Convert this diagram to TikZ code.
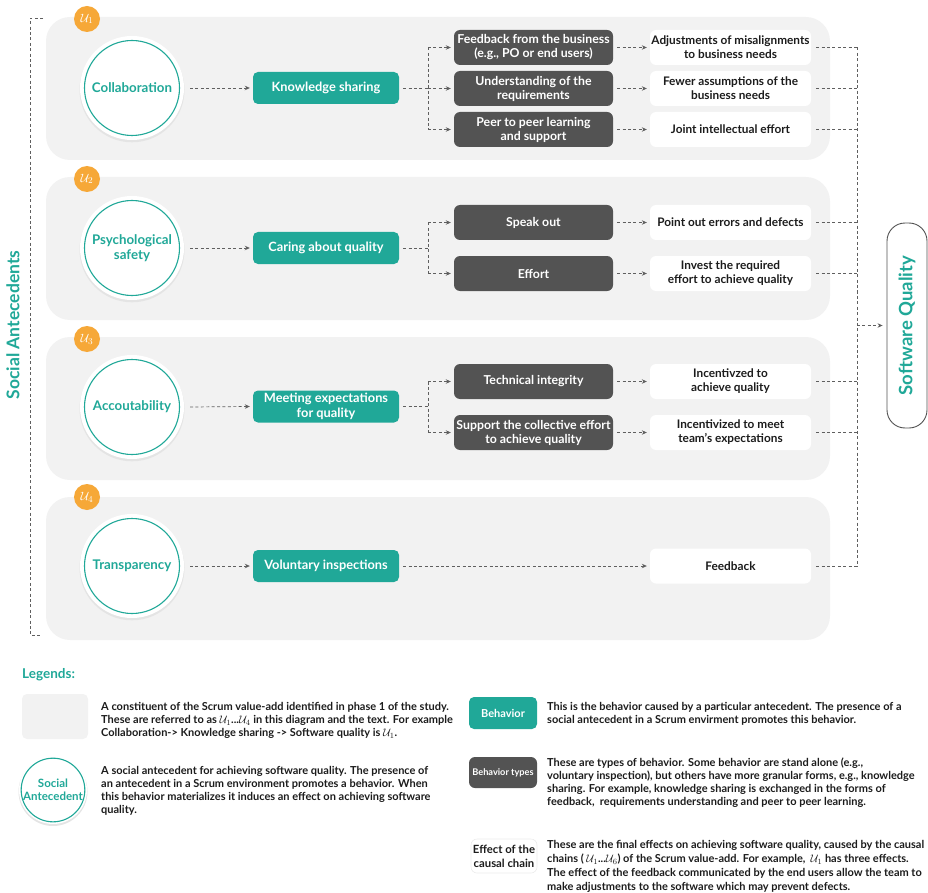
\documentclass[tikz,border=0pt]{standalone}
\usepackage{fontspec}
\setmainfont{Lato}
\usetikzlibrary{arrows.meta}
\definecolor{tealc}{RGB}{32,168,152}
\definecolor{panelg}{RGB}{242,242,242}
\definecolor{shadg}{RGB}{228,228,228}
\definecolor{darkb}{RGB}{83,83,83}
\definecolor{badgec}{RGB}{246,168,56}
\definecolor{txtc}{RGB}{28,28,28}
\definecolor{linec}{RGB}{95,95,95}
\newcommand\fsz[2]{\fontsize{#1}{#2}\selectfont\bfseries}
\begin{document}
\begin{tikzpicture}[x=1pt,y=-1pt,
 panel/.style={fill=panelg, rounded corners=24pt},
 badge/.style={circle, fill=badgec, minimum size=26pt, inner sep=0pt, text=white, font=\fsz{13}{15}},
 halo/.style={circle, fill=white, minimum size=#1, inner sep=0pt},
 haloshad/.style={circle, fill=shadg, minimum size=#1, inner sep=0pt},
 antec/.style={circle, draw=tealc, line width=1.1pt, minimum size=95pt, inner sep=0pt, text=tealc, align=center, font=\fsz{13.3}{15.5}},
 behav/.style={fill=tealc, rounded corners=5pt, text=white, minimum width=146pt, minimum height=32pt, inner sep=1pt, align=center, font=\fsz{12.8}{15}},
 btype/.style={fill=darkb, rounded corners=6pt, text=white, minimum width=159pt, minimum height=35pt, inner sep=1pt, align=center, font=\fsz{12.3}{14}},
 effect/.style={fill=white, rounded corners=6pt, text=txtc, minimum width=161pt, minimum height=35pt, inner sep=1pt, align=center, font=\fsz{11.8}{14}},
 conn/.style={draw=linec, line width=0.7pt, dash pattern=on 3pt off 2.4pt},
 arr/.style={conn, -{Stealth[length=5pt, width=4.5pt]}},
 sqbox/.style={draw=darkb, line width=0.9pt, rounded corners=18pt, minimum width=40pt, minimum height=205pt, fill=white},
 legtext/.style={anchor=north west, inner sep=0pt, align=left, text=txtc, font=\fsz{11}{13}}
]
\useasboundingbox (0,0) rectangle (928,893);

% panels
\foreach \t in {17,177,337,497} \fill[panel] (46,\t) rectangle (830,\t+143);

% badges
\node[badge] (u1) at (87,19) {$\mathcal{U}_1$};
\node[badge] (u2) at (87,179) {$\mathcal{U}_2$};
\node[badge] (u3) at (87,339) {$\mathcal{U}_3$};
\node[badge] (u4) at (87,497) {$\mathcal{U}_4$};

% antecedents
\foreach \i/\y in {1/88,2/248,3/407,4/566} {
  \node[haloshad=105pt] (s\i) at (132,\y+1.8) {};
  \node[halo=104pt] (h\i) at (132,\y) {};
}
\node[antec] (a1) at (132,88) {Collaboration};
\node[antec] (a2) at (132,248) {Psychological\\safety};
\node[antec] (a3) at (132,407) {Accoutability};
\node[antec] (a4) at (132,566) {Transparency};

% behaviors
\node[behav] (b1) at (326,88) {Knowledge sharing};
\node[behav] (b2) at (326,248) {Caring about quality};
\node[behav] (b3) at (326,406.5) {Meeting expectations\\for quality};
\node[behav] (b4) at (326,566) {Voluntary inspections};

% behavior types
\node[btype] (t11) at (533.5,47.5) {Feedback from the business\\(e.g., PO or end users)};
\node[btype] (t12) at (533.5,88.5) {Understanding of the\\requirements};
\node[btype] (t13) at (533.5,129.5) {Peer to peer learning\\and support};
\node[btype] (t21) at (533.5,222.5) {Speak out};
\node[btype] (t22) at (533.5,273.5) {Effort};
\node[btype] (t31) at (533.5,381.5) {Technical integrity};
\node[btype] (t32) at (533.5,432.5) {Support the collective effort\\to achieve quality};

% effects
\node[effect] (e11) at (730.5,47.5) {Adjustments of misalignments\\to business needs};
\node[effect] (e12) at (730.5,88.5) {Fewer assumptions of the\\business needs};
\node[effect] (e13) at (730.5,129.5) {Joint intellectual effort};
\node[effect] (e21) at (730.5,222.5) {Point out errors and defects};
\node[effect] (e22) at (730.5,273.5) {Invest the required\\effort to achieve quality};
\node[effect] (e31) at (730.5,381.5) {Incentivzed to\\achieve quality};
\node[effect] (e32) at (730.5,432.5) {Incentivized to meet\\team’s expectations};
\node[effect] (e41) at (730.5,566) {Feedback};

% antecedent -> behavior
\foreach \i in {1,2,3,4} \draw[arr] ([xshift=10pt]a\i.east) -- ([xshift=-3pt]b\i.west);

% branches
\coordinate (k1) at (428,88);
\coordinate (k2) at (428,248);
\coordinate (k3) at (428,406.5);
\draw[conn] ([xshift=4pt]b1.east) -- (k1);
\draw[conn] ([xshift=4pt]b2.east) -- (k2);
\draw[conn] ([xshift=4pt]b3.east) -- (k3);
\draw[conn] (t11.west -| k1) -- (t13.west -| k1);
\draw[conn] (t21.west -| k2) -- (t22.west -| k2);
\draw[conn] (t31.west -| k3) -- (t32.west -| k3);
\foreach \n in {t11,t12,t13} \draw[arr] (\n.west -| k1) -- ([xshift=-3pt]\n.west);
\foreach \n in {t21,t22} \draw[arr] (\n.west -| k2) -- ([xshift=-3pt]\n.west);
\foreach \n in {t31,t32} \draw[arr] (\n.west -| k3) -- ([xshift=-3pt]\n.west);

% type -> effect
\foreach \s/\e in {t11/e11,t12/e12,t13/e13,t21/e21,t22/e22,t31/e31,t32/e32}
  \draw[arr] ([xshift=4pt]\s.east) -- ([xshift=-3pt]\e.west);
\draw[arr] ([xshift=4pt]b4.east) -- ([xshift=-3pt]e41.west);

% collector
\coordinate (cx) at (857,0);
\foreach \e in {e11,e12,e13,e21,e22,e31,e32,e41}
  \draw[conn] ([xshift=5pt]\e.east) -- (\e.east -| cx);
\draw[conn] (e11.east -| cx) -- (e41.east -| cx);

% software quality
\node[sqbox] (sq) at (907,325.5) {};
\node[rotate=90, text=tealc, font=\fsz{18.5}{20}] (sql) at (sq.center) {Software Quality};
\draw[arr] (sq.west -| cx) -- ([xshift=-4pt]sq.west);

% left bracket
\coordinate (lt) at (43,18);
\coordinate (ltc) at (30,18);
\coordinate (lbc) at (30,635);
\coordinate (lb) at (40,635);
\draw[conn] (lt) -- (ltc) -- (lbc) -- (lb);
\node[rotate=90, text=tealc, font=\fsz{17.5}{20}] (soc) at (13,325) {Social Antecedents};

% legends
\node[anchor=west, inner sep=0pt, text=tealc, font=\fsz{13.5}{15}] (leg) at (22,675) {Legends:};
\node[fill=panelg, rounded corners=5pt, minimum width=66pt, minimum height=45pt] (lg1) at (55,716.5) {};
\node[legtext] (lt1) at (101,702.5) {A constituent of the Scrum value-add identified in phase 1 of the study.\\
These are referred to as $\mathcal{U}_1$...$\mathcal{U}_4$ in this diagram and the text. For example\\
Collaboration-> Knowledge sharing -> Software quality is $\mathcal{U}_1$.};

\node[haloshad=69pt] (lsh) at (53,791.5) {};
\node[halo=68pt] (lh) at (53,790) {};
\node[antec, minimum size=63pt, font=\fsz{11.5}{13.5}] (lc) at (53,790) {Social\\Antecedent};
\node[legtext] (lt2) at (101,766.5) {A social antecedent for achieving software quality. The presence of\\
an antecedent in a Scrum environment promotes a behavior. When\\
this behavior materializes it induces an effect on achieving software\\
quality.};

\node[behav, minimum width=68pt, minimum height=32pt, font=\fsz{11}{13}] (lb1) at (503,713) {Behavior};
\node[legtext] (lt3) at (547,702.5) {This is the behavior caused by a particular antecedent. The presence of a\\
social antecedent in a Scrum envirment promotes this behavior.};

\node[btype, minimum width=68pt, minimum height=31pt, font=\fsz{9.2}{11}] (lb2) at (503,772.5) {Behavior types};
\node[legtext] (lt4) at (547,757.5) {These are types of behavior. Some behavior are stand alone (e.g.,\\
voluntary inspection), but others have more granular forms, e.g., knowledge\\
sharing. For example, knowledge sharing is exchanged in the forms of\\
feedback,\ \ requirements understanding and peer to peer learning.};

\node[effect, draw=shadg!70, line width=0.6pt, minimum width=66pt, minimum height=34pt, font=\fsz{11.3}{14}] (lb3) at (504,856) {Effect of the\\causal chain};
\node[legtext, font=\fsz{11}{14}] (lt5) at (547,840.5) {These are the final effects on achieving software quality, caused by the causal\\
chains ( $\mathcal{U}_1$...$\mathcal{U}_6$) of the Scrum value-add. For example,\ \ $\mathcal{U}_1$ has three effects.\\
The effect of the feedback communicated by the end users allow the team to\\
make adjustments to the software which may prevent defects.};
\end{tikzpicture}
\end{document}
